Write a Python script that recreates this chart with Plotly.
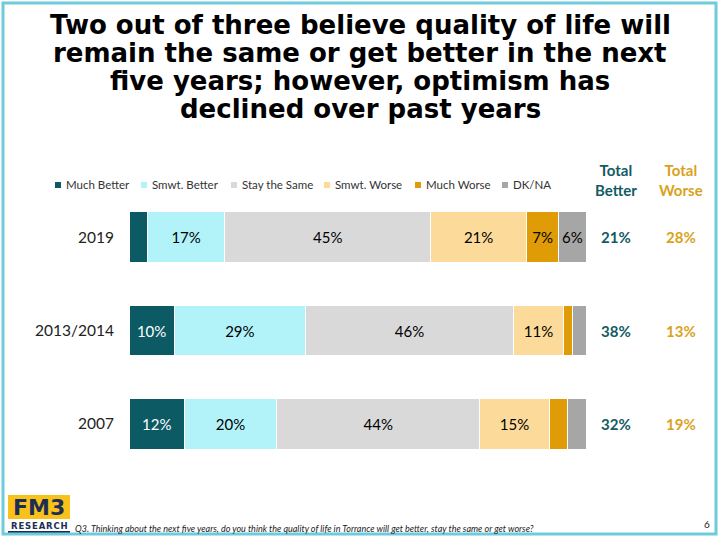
import plotly.graph_objects as go

years = ["2019", "2013/2014", "2007"]
series_names = ["Much Better", "Smwt. Better", "Stay the Same", "Smwt. Worse", "Much Worse", "DK/NA"]
much_better = [4, 10, 12]
smwt_better = [17, 29, 20]
stay_same = [45, 46, 44]
smwt_worse = [21, 11, 15]
much_worse = [7, 2, 4]
dk_na = [6, 3, 4]
total_better = [21, 38, 32]
total_worse = [28, 13, 19]

colors = ["#0b5a64", "#b2f3fa", "#d9d9d9", "#fcda99", "#e09c06", "#a6a6a6"]
text_colors = ["white", "black", "black", "black", "black", "black"]
all_series = [much_better, smwt_better, stay_same, smwt_worse, much_worse, dk_na]

W, H = 720, 540
def px(x):
    return x / W
def py(y):
    return 1 - y / H

fig = go.Figure()
for name, vals, c, tc in zip(series_names, all_series, colors, text_colors):
    fig.add_trace(go.Bar(
        y=years, x=vals, name=name, orientation="h",
        marker=dict(color=c, line=dict(color="white", width=1)),
        text=[f"{v}%" if v >= 5 else "" for v in vals],
        textposition="inside", insidetextanchor="middle",
        textfont=dict(family="Lato", size=15, color=tc),
        constraintext="none",
        hoverinfo="skip", showlegend=False,
    ))

fig.update_layout(
    width=W, height=H,
    margin=dict(l=0, r=0, t=0, b=0),
    paper_bgcolor="white", plot_bgcolor="white",
    barmode="stack", barnorm="percent", bargap=0.46,
    showlegend=False,
    xaxis=dict(domain=[px(129), px(586)], range=[0, 100], showgrid=False, zeroline=False,
               showticklabels=False, showline=False, fixedrange=True),
    yaxis=dict(type="category", domain=[py(470.5), py(190.5)], range=[2.5, -0.5],
               categoryorder="array", categoryarray=years,
               showgrid=False, zeroline=False, showline=False,
               tickfont=dict(family="Lato", size=15.5, color="#222222"),
               ticks="", ticklabelstandoff=14),
    font=dict(family="Lato"),
)

# Legend (drawn manually to match the compact reference layout)
legend_x = [55, 141, 231, 324, 415, 502]
for name, c, lx in zip(series_names, colors, legend_x):
    fig.add_shape(type="rect", xref="paper", yref="paper",
                  x0=px(lx), x1=px(lx + 6), y0=py(188), y1=py(182),
                  fillcolor=c, line=dict(width=0))
    fig.add_annotation(text=name, x=px(lx + 9), y=py(185), xref="paper", yref="paper",
                       showarrow=False, xanchor="left", yanchor="middle",
                       font=dict(family="Lato", size=11.5, color="#333333"))

# Title lines
title_lines = ["Two out of three believe quality of life will",
               "remain the same or get better in the next",
               "five years; however, optimism has",
               "declined over past years"]
for i, t in enumerate(title_lines):
    fig.add_annotation(text=f"<b>{t}</b>", x=px(360), y=py(25 + 28 * i), xref="paper", yref="paper",
                       showarrow=False, xanchor="center", yanchor="middle",
                       font=dict(family="DejaVu Sans", size=26, color="black"))

# Total columns headers
for label, xc, col in [("Better", 616, "#135b64"), ("Worse", 681, "#d9a21b")]:
    fig.add_annotation(text=f"<b>Total<br>{label}</b>", x=px(xc), y=py(180), xref="paper", yref="paper",
                       showarrow=False, xanchor="center", yanchor="middle",
                       font=dict(family="Lato", size=15, color=col))
for i in range(len(years)):
    fig.add_annotation(text=f"<b>{total_better[i]}%</b>", x=px(616), y=i, xref="paper", yref="y",
                       showarrow=False, xanchor="center", yanchor="middle",
                       font=dict(family="Lato", size=15, color="#135b64"))
    fig.add_annotation(text=f"<b>{total_worse[i]}%</b>", x=px(681), y=i, xref="paper", yref="y",
                       showarrow=False, xanchor="center", yanchor="middle",
                       font=dict(family="Lato", size=15, color="#d9a21b"))

# Logo
fig.add_shape(type="rect", xref="paper", yref="paper", x0=px(8), x1=px(70), y0=py(519), y1=py(495),
              fillcolor="#f9c21b", line=dict(width=0), layer="below")
fig.add_annotation(text="<b>FM3</b>", x=px(39), y=py(507), xref="paper", yref="paper",
                   showarrow=False, xanchor="center", yanchor="middle",
                   font=dict(family="DejaVu Sans", size=22, color="#1d2e55"))
fig.add_annotation(text="<b>R&#8202;E&#8202;S&#8202;E&#8202;A&#8202;R&#8202;C&#8202;H</b>",
                   x=px(39), y=py(526), xref="paper", yref="paper",
                   showarrow=False, xanchor="center", yanchor="middle",
                   font=dict(family="DejaVu Sans", size=8.5, color="#1d2e55"))
fig.add_shape(type="line", xref="paper", yref="paper", x0=px(8), x1=px(70), y0=py(532), y1=py(532),
              line=dict(color="#1d2e55", width=2))

# Footnote
fig.add_annotation(text="<i>Q3. Thinking about the next five years, do you think the quality of life in Torrance will get better, stay the same or get worse?</i>",
                   x=px(73), y=py(528), xref="paper", yref="paper", showarrow=False,
                   xanchor="left", yanchor="middle",
                   font=dict(family="Lato", size=9, color="#222222"))
fig.add_annotation(text="6", x=px(707), y=py(524), xref="paper", yref="paper", showarrow=False,
                   xanchor="center", yanchor="middle",
                   font=dict(family="Lato", size=10, color="#222222"))

# Frame border
fig.add_shape(type="rect", xref="paper", yref="paper", x0=px(3), x1=px(716), y0=py(534), y1=py(3),
              line=dict(color="#6ecbdb", width=3), fillcolor="rgba(0,0,0,0)")

fig.write_html("out.html")
